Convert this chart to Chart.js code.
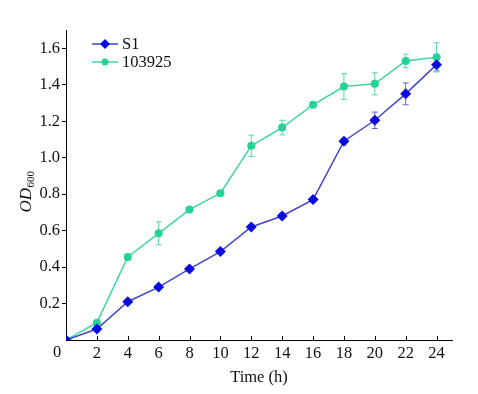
<!DOCTYPE html>
<html><head><meta charset="utf-8">
<script src="https://cdn.jsdelivr.net/npm/chart.js@4.4.1/dist/chart.umd.min.js"></script>
<style>html,body{margin:0;padding:0;background:#fff}#wrap{width:478px;height:394px}</style>
</head><body><div id="wrap"><canvas id="c" width="478" height="394"></canvas></div>
<script>
const hours = [0, 2, 4, 6, 8, 10, 12, 14, 16, 18, 20, 22, 24];
const s1 = [0.0, 0.06, 0.21, 0.29, 0.39, 0.485, 0.62, 0.68, 0.77, 1.09, 1.205, 1.35, 1.51];
const s1Err = [0, 0.01, 0.01, 0.01, 0.01, 0.01, 0.01, 0.015, 0.01, 0.015, 0.045, 0.06, 0.035];
const strain = [0.0, 0.095, 0.455, 0.585, 0.715, 0.805, 1.065, 1.165, 1.29, 1.39, 1.405, 1.53, 1.55];
const strainErr = [0, 0.01, 0.015, 0.063, 0.01, 0.01, 0.058, 0.04, 0.01, 0.07, 0.06, 0.037, 0.08];
const seriesNames = ['S1', '103925'];
const xTicks = [0, 2, 4, 6, 8, 10, 12, 14, 16, 18, 20, 22, 24];
const yTicks = [0.2, 0.4, 0.6, 0.8, 1.0, 1.2, 1.4, 1.6];
const xTitle = 'Time (h)';

const FONT = "'Liberation Serif', 'DejaVu Serif', serif";
const errColors = ['#6666cc', '#55d6aa'];
const errData = [s1Err, strainErr];

const errorBars = {
  id: 'errorBars',
  beforeDatasetsDraw(chart) {
    const ctx = chart.ctx;
    const xs = chart.scales.x, ys = chart.scales.y;
    chart.data.datasets.forEach((ds, i) => {
      ctx.save();
      ctx.strokeStyle = errColors[i];
      ctx.lineWidth = 1;
      ds.data.forEach((p, j) => {
        const e = errData[i][j];
        if (!e) return;
        const px = xs.getPixelForValue(p.x);
        const y1 = ys.getPixelForValue(p.y + e), y2 = ys.getPixelForValue(p.y - e);
        ctx.beginPath();
        ctx.moveTo(px, y1); ctx.lineTo(px, y2);
        ctx.moveTo(px - 3, y1); ctx.lineTo(px + 3, y1);
        ctx.moveTo(px - 3, y2); ctx.lineTo(px + 3, y2);
        ctx.stroke();
      });
      ctx.restore();
    });
  }
};

const decor = {
  id: 'decor',
  afterDraw(chart) {
    const ctx = chart.ctx;
    const xs = chart.scales.x, ys = chart.scales.y;
    const bottom = chart.chartArea.bottom;
    ctx.save();
    // inward x ticks
    ctx.strokeStyle = '#000'; ctx.lineWidth = 1;
    xTicks.forEach(v => {
      if (v === 0) return;
      const px = Math.round(xs.getPixelForValue(v)) + 0.5;
      ctx.beginPath(); ctx.moveTo(px, bottom); ctx.lineTo(px, bottom - 4); ctx.stroke();
    });
    // origin label
    ctx.fillStyle = '#111';
    ctx.font = '16.5px ' + FONT;
    ctx.textAlign = 'center'; ctx.textBaseline = 'middle';
    ctx.fillText('0', xs.getPixelForValue(0) - 9, 353);
    // y title OD600
    ctx.translate(31, 192);
    ctx.rotate(-Math.PI / 2);
    ctx.textAlign = 'left'; ctx.textBaseline = 'alphabetic';
    ctx.font = 'italic 17px ' + FONT;
    const w1 = ctx.measureText('OD').width;
    ctx.font = '11px ' + FONT;
    const w2 = ctx.measureText('600').width;
    const start = -(w1 + w2) / 2;
    ctx.font = 'italic 17px ' + FONT;
    ctx.fillText('OD', start, 0);
    ctx.font = '11px ' + FONT;
    ctx.fillText('600', start + w1 + 0.5, 2.5);
    ctx.restore();
    // legend
    ctx.save();
    chart.data.datasets.forEach((ds, i) => {
      const ly = 44 + i * 18;
      ctx.strokeStyle = ds.borderColor; ctx.lineWidth = 1.5;
      ctx.beginPath(); ctx.moveTo(92, ly); ctx.lineTo(118, ly); ctx.stroke();
      ctx.fillStyle = ds.pointBackgroundColor;
      ctx.beginPath();
      if (i === 0) {
        ctx.moveTo(105, ly - 5); ctx.lineTo(110, ly); ctx.lineTo(105, ly + 5); ctx.lineTo(100, ly); ctx.closePath();
      } else {
        ctx.arc(105, ly, 3.5, 0, Math.PI * 2);
      }
      ctx.fill();
      ctx.fillStyle = '#111';
      ctx.font = '16.5px ' + FONT;
      ctx.textAlign = 'left'; ctx.textBaseline = 'middle';
      ctx.fillText(seriesNames[i], 122, ly + 1);
    });
    ctx.restore();
  }
};

new Chart(document.getElementById('c'), {
  type: 'line',
  data: {
    datasets: [
      {
        label: seriesNames[0],
        data: hours.map((h, i) => ({x: h, y: s1[i]})),
        borderColor: '#4545c8', borderWidth: 1.5,
        pointStyle: 'rectRot', pointRadius: 5.5,
        pointBackgroundColor: '#0a0ae0', pointBorderColor: '#0a0ae0', pointBorderWidth: 0,
        tension: 0
      },
      {
        label: seriesNames[1],
        data: hours.map((h, i) => ({x: h, y: strain[i]})),
        borderColor: '#40d4a0', borderWidth: 1.5,
        pointStyle: 'circle', pointRadius: 4,
        pointBackgroundColor: '#22d393', pointBorderColor: '#22d393', pointBorderWidth: 0,
        tension: 0
      }
    ]
  },
  options: {
    responsive: false, animation: false,
    layout: {padding: {left: 0, top: 30, right: 26, bottom: 0}},
    plugins: {legend: {display: false}, tooltip: {enabled: false}},
    scales: {
      x: {
        type: 'linear', min: 0, max: 25,
        afterBuildTicks: s => { s.ticks = xTicks.map(v => ({value: v})); },
        afterFit: s => { s.height = 54; },
        grid: {drawOnChartArea: false, drawTicks: false},
        border: {color: '#000', width: 1},
        ticks: {color: '#111', font: {family: FONT, size: 16.5}, padding: 4, maxRotation: 0,
          callback: v => v === 0 ? '' : String(v)},
        title: {display: true, text: xTitle, color: '#111', font: {family: FONT, size: 16.5}, padding: {top: 0, bottom: 6}}
      },
      y: {
        min: 0, max: 1.7,
        afterBuildTicks: s => { s.ticks = yTicks.map(v => ({value: v})); },
        afterFit: s => { s.width = 66; },
        grid: {drawOnChartArea: false, drawTicks: true, tickLength: 4, color: '#000'},
        border: {color: '#000', width: 1},
        ticks: {color: '#111', font: {family: FONT, size: 16.5}, padding: 2,
          callback: v => v.toFixed(1)}
      }
    }
  },
  plugins: [errorBars, decor]
});
</script></body></html>
